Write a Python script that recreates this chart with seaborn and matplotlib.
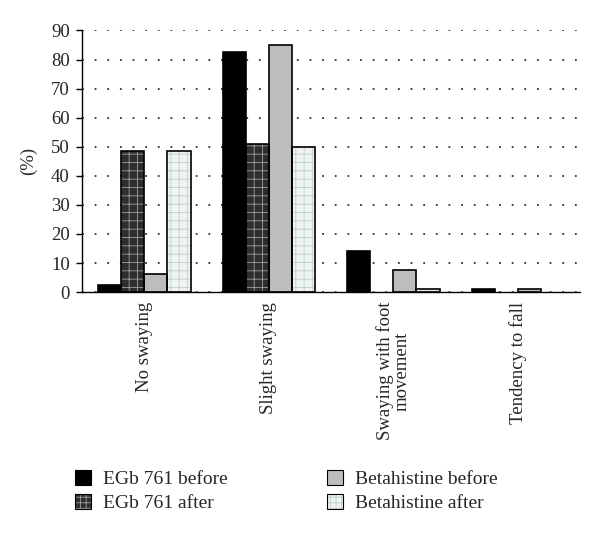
import matplotlib
matplotlib.use("Agg")
import matplotlib.pyplot as plt
import seaborn as sns
import pandas as pd
from matplotlib.patches import Patch

categories = ["No swaying", "Slight swaying", "Swaying with foot\nmovement", "Tendency to fall"]
series = ["EGb 761 before", "EGb 761 after", "Betahistine before", "Betahistine after"]
egb_before = [2.5, 82.5, 14.0, 1.2]
egb_after = [48.7, 51.0, 0.0, 0.0]
beta_before = [6.2, 85.0, 7.5, 1.2]
beta_after = [48.7, 50.0, 1.2, 0.0]
yticks = list(range(0, 91, 10))

rows = []
for s, vals in zip(series, [egb_before, egb_after, beta_before, beta_after]):
    for c, v in zip(categories, vals):
        rows.append({"cat": c, "series": s, "val": v})
df = pd.DataFrame(rows)

sns.set_style("white")
plt.rcParams["font.family"] = ["Liberation Serif", "DejaVu Serif"]
plt.rcParams["hatch.linewidth"] = 0.6

fills = {"EGb 761 before": "#000000", "EGb 761 after": "#2e2e2e",
         "Betahistine before": "#bdbdbd", "Betahistine after": "#eef3f3"}
hatch_col = {"EGb 761 after": "#a0a0a0", "Betahistine after": "#c4cccc"}

fig = plt.figure(figsize=(6, 5.35), dpi=100)
ax = fig.add_axes([0.137, 0.454, 0.83, 0.489])

# filled bars (with hatch patterns)
sns.barplot(data=df, x="cat", y="val", hue="series", order=categories, hue_order=series,
            palette=fills, width=0.74, linewidth=0, saturation=1, ax=ax, legend=False, errorbar=None)
n_cat = len(categories)
for i, s in enumerate(series):
    for patch in ax.patches[i * n_cat:(i + 1) * n_cat]:
        if s in hatch_col:
            patch.set_hatch("++")
            patch.set_edgecolor(hatch_col[s])
            patch.set_linewidth(0)
# outlines
n_before = len(ax.patches)
sns.barplot(data=df, x="cat", y="val", hue="series", order=categories, hue_order=series,
            fill=False, width=0.74, linewidth=1.2, ax=ax, legend=False, errorbar=None)
for patch in ax.patches[n_before:]:
    patch.set_edgecolor("black")
    if patch.get_height() == 0:
        patch.set_visible(False)

ax.set_ylim(0, 90)
ax.set_xlim(-0.5, n_cat - 0.5)
ax.set_yticks(yticks)
ax.set_yticklabels([str(t) for t in yticks], fontsize=13.5)
ax.yaxis.grid(True, linestyle=(0, (1, 6)), linewidth=1.3, color="#333333")
ax.set_axisbelow(True)
ax.set_xticks(range(n_cat))
ax.set_xticklabels(categories, rotation=90, fontsize=13.5, va="top", ha="center",
                   multialignment="center", linespacing=0.95)
ax.set_xticks([i - 0.5 for i in range(n_cat + 1)], minor=True)
ax.tick_params(axis="x", which="major", length=0, pad=7)
ax.tick_params(axis="x", which="minor", length=6, width=1, color="black", direction="out")
ax.tick_params(axis="y", length=4, width=1, color="black", direction="out", left=True, pad=5)
ax.set_xlabel("")
ax.set_ylabel("(%)", fontsize=13.5, labelpad=10)
for sp in ["top", "right"]:
    ax.spines[sp].set_visible(False)
for sp in ["left", "bottom"]:
    ax.spines[sp].set_color("black")
    ax.spines[sp].set_linewidth(1)

handles = []
for s in series:
    outline = Patch(facecolor="none", edgecolor="black", linewidth=0.8)
    if s in hatch_col:
        filled = Patch(facecolor=fills[s], edgecolor=hatch_col[s], hatch="+++", linewidth=0)
    else:
        filled = Patch(facecolor=fills[s], edgecolor="none", linewidth=0)
    handles.append((filled, outline))
leg = fig.legend(handles, series, loc="upper left", bbox_to_anchor=(0.095, 0.155), ncol=2,
                 frameon=False, fontsize=14, handlelength=0.85, handleheight=0.85,
                 columnspacing=5.1, labelspacing=0.28, handletextpad=0.6)

fig.savefig("out.png", dpi=100)
